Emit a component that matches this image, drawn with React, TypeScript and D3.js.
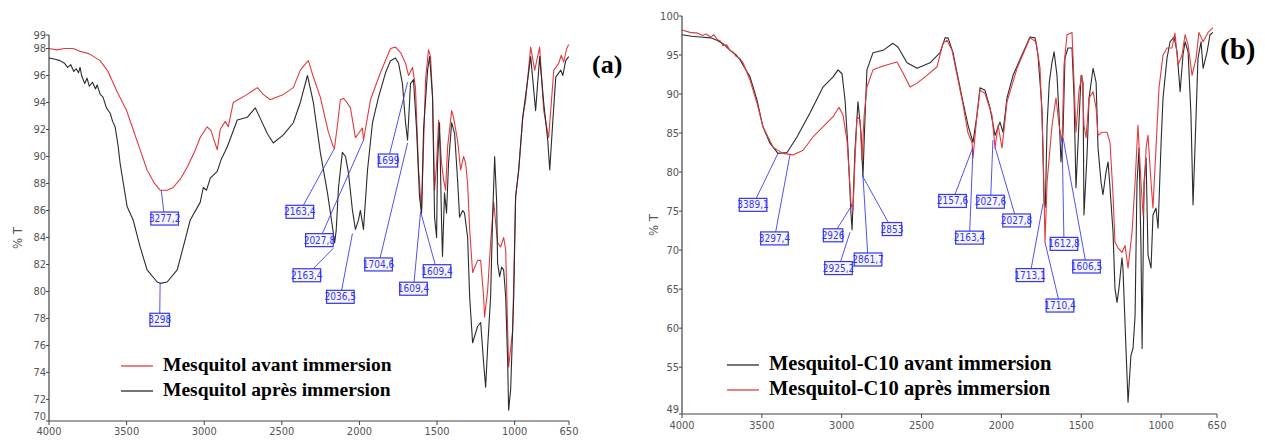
import React from "react";
import * as d3 from "d3";

type Pt = [number, number];
interface Annot { text: string; at: Pt; box: Pt }

const xTicks = [4000, 3500, 3000, 2500, 2000, 1500, 1000, 650];
const yTicksA = [70, 72, 74, 76, 78, 80, 82, 84, 86, 88, 90, 92, 94, 96, 98, 99];
const yTicksB = [49, 55, 60, 65, 70, 75, 80, 85, 90, 95, 100];

// Panel (a): Mesquitol avant immersion (red)
const redA: Pt[] = [
  [4000, 98.0], [3950, 97.9], [3900, 98.0], [3845, 98.0], [3800, 97.8], [3740, 97.6], [3671, 97.1], [3620, 96.3],
  [3561, 94.8], [3500, 93.4], [3458, 92.0], [3410, 90.4], [3368, 89.0], [3320, 88.0], [3284, 87.5], [3240, 87.5],
  [3200, 87.7], [3150, 88.4], [3110, 89.2], [3060, 90.4], [3026, 91.4], [2981, 92.2], [2955, 91.9], [2942, 91.4],
  [2916, 90.5], [2897, 92.0], [2865, 92.6], [2845, 92.2], [2813, 94.0], [2723, 94.6], [2658, 95.1], [2620, 94.6],
  [2574, 94.2], [2490, 94.6], [2426, 95.1], [2381, 96.4], [2345, 96.9], [2329, 97.1], [2300, 96.0], [2252, 94.4],
  [2200, 91.8], [2168, 90.7], [2161, 90.6], [2140, 92.5], [2123, 94.2], [2103, 94.3], [2080, 94.0], [2058, 93.6],
  [2026, 91.4], [2006, 91.7], [1981, 92.1], [1974, 91.2], [1929, 94.2], [1865, 96.2], [1800, 98.0], [1768, 98.1],
  [1735, 97.7], [1703, 96.9], [1684, 96.0], [1658, 96.6], [1639, 95.1], [1619, 89.0], [1600, 85.9], [1574, 95.7],
  [1555, 97.9], [1542, 97.4], [1529, 94.4], [1516, 87.5], [1503, 89.5], [1490, 92.7], [1471, 89.5], [1458, 88.3],
  [1445, 87.5], [1432, 90.7], [1406, 93.4], [1394, 92.9], [1368, 91.2], [1348, 89.0], [1329, 90.0], [1316, 89.5],
  [1303, 88.0], [1290, 84.6], [1271, 81.4], [1239, 82.3], [1219, 82.3], [1200, 79.6], [1194, 78.1], [1174, 80.1],
  [1155, 83.6], [1135, 86.6], [1110, 83.6], [1090, 83.3], [1071, 84.0], [1058, 83.1], [1045, 77.1], [1039, 74.4],
  [1013, 77.1], [994, 87.0], [974, 89.0], [948, 92.9], [929, 94.2], [897, 98.1], [871, 96.4], [839, 98.1],
  [813, 93.4], [781, 91.4], [748, 96.4], [716, 96.9], [700, 97.5], [684, 97.0], [665, 98.0], [652, 98.3],
];

// Panel (a): Mesquitol après immersion (black)
const blackA: Pt[] = [
  [4000, 97.3], [3960, 97.2], [3930, 97.1], [3900, 96.9], [3880, 96.6], [3860, 96.8], [3840, 96.3], [3825, 96.5],
  [3810, 96.2], [3800, 96.6], [3790, 96.0], [3770, 95.4], [3755, 95.8], [3740, 95.2], [3720, 95.5], [3700, 95.0],
  [3690, 95.3], [3670, 94.6], [3652, 94.4], [3630, 93.6], [3606, 93.2], [3590, 92.6], [3574, 92.2], [3555, 90.8],
  [3542, 89.5], [3497, 86.3], [3458, 85.3], [3413, 83.3], [3368, 81.6], [3303, 80.7], [3284, 80.6], [3239, 80.7],
  [3174, 81.6], [3135, 83.3], [3090, 85.3], [3026, 86.6], [3006, 87.7], [2985, 87.5], [2961, 88.4], [2916, 88.9],
  [2890, 89.8], [2852, 90.7], [2787, 92.7], [2723, 92.9], [2671, 93.6], [2630, 92.6], [2594, 91.7], [2555, 91.0],
  [2490, 91.6], [2426, 92.5], [2381, 94.0], [2335, 96.0], [2297, 94.0], [2252, 90.3], [2206, 87.3], [2174, 84.8],
  [2160, 83.6], [2150, 84.5], [2135, 87.7], [2110, 90.3], [2090, 90.0], [2071, 88.8], [2045, 86.0], [2026, 84.6],
  [2006, 85.3], [1994, 86.0], [1981, 85.1], [1974, 84.6], [1948, 89.0], [1916, 92.5], [1877, 94.4], [1832, 96.2],
  [1800, 97.1], [1768, 97.3], [1748, 96.9], [1723, 95.4], [1703, 92.5], [1690, 91.2], [1671, 95.4], [1652, 95.7],
  [1632, 92.0], [1613, 87.0], [1600, 85.8], [1587, 92.0], [1561, 96.4], [1548, 97.4], [1529, 94.4], [1516, 85.5],
  [1503, 84.0], [1497, 89.5], [1484, 92.5], [1471, 85.1], [1465, 82.6], [1452, 87.3], [1439, 85.8], [1426, 89.5],
  [1406, 92.5], [1387, 91.7], [1368, 88.3], [1355, 85.5], [1335, 86.0], [1323, 85.8], [1303, 84.0], [1290, 79.6],
  [1271, 76.2], [1239, 77.4], [1219, 77.7], [1200, 74.7], [1187, 72.9], [1174, 75.9], [1155, 79.6], [1142, 85.5],
  [1129, 90.0], [1116, 86.6], [1110, 82.1], [1097, 81.1], [1084, 81.8], [1071, 81.6], [1058, 79.6], [1045, 74.7],
  [1039, 71.2], [1026, 72.7], [1006, 79.6], [994, 87.0], [974, 89.0], [948, 92.9], [916, 95.7], [897, 97.4],
  [865, 93.4], [839, 97.4], [813, 94.0], [787, 91.2], [774, 89.0], [755, 92.5], [735, 95.9], [703, 96.4],
  [690, 96.0], [671, 97.1], [652, 97.4],
];

// Panel (b): Mesquitol-C10 avant immersion (black)
const blackB: Pt[] = [
  [4000, 97.6], [3940, 97.4], [3887, 97.3], [3820, 97.2], [3781, 96.9], [3740, 96.4], [3699, 95.6], [3660, 95.0],
  [3637, 94.4], [3574, 92.2], [3530, 89.2], [3493, 85.8], [3449, 83.7], [3399, 82.4], [3342, 82.5], [3280, 84.5],
  [3198, 87.6], [3117, 90.9], [3054, 92.2], [3023, 93.1], [2998, 92.6], [2979, 89.2], [2960, 82.8], [2942, 74.7],
  [2935, 72.6], [2917, 82.8], [2898, 89.0], [2879, 85.0], [2867, 79.4], [2854, 87.1], [2842, 93.1], [2804, 95.3],
  [2741, 95.6], [2679, 96.5], [2647, 96.0], [2591, 94.0], [2528, 93.3], [2447, 94.0], [2384, 95.3], [2353, 97.2],
  [2334, 97.2], [2303, 95.3], [2247, 89.6], [2209, 86.0], [2178, 83.8], [2153, 87.3], [2134, 90.8], [2103, 90.5],
  [2071, 88.2], [2040, 84.7], [2009, 86.4], [1990, 85.1], [1965, 89.5], [1927, 92.4], [1871, 95.0], [1821, 97.3],
  [1789, 97.2], [1771, 95.0], [1746, 88.2], [1733, 76.2], [1725, 75.5], [1714, 86.0], [1700, 91.5], [1683, 94.1],
  [1670, 95.4], [1652, 92.4], [1639, 87.3], [1627, 81.3], [1614, 85.1], [1602, 94.6], [1583, 95.9], [1558, 95.9],
  [1545, 89.5], [1533, 78.0], [1520, 83.8], [1501, 92.4], [1489, 91.5], [1483, 74.5], [1464, 82.1], [1451, 89.5],
  [1426, 93.3], [1407, 91.5], [1395, 83.1], [1376, 78.7], [1364, 77.1], [1345, 80.0], [1332, 81.3], [1320, 78.0],
  [1301, 72.3], [1289, 65.1], [1276, 63.3], [1264, 65.1], [1245, 69.0], [1239, 67.7], [1220, 57.4], [1207, 50.5],
  [1189, 56.5], [1176, 57.4], [1163, 61.6], [1151, 78.7], [1138, 83.1], [1126, 70.3], [1119, 57.4], [1107, 78.7],
  [1094, 81.8], [1082, 69.4], [1063, 67.7], [1051, 74.5], [1032, 75.4], [1019, 72.8], [1000, 83.8], [988, 89.5],
  [963, 94.6], [944, 96.7], [919, 97.3], [900, 95.4], [881, 90.3], [863, 95.0], [850, 96.7], [831, 95.4],
  [813, 87.3], [800, 75.8], [781, 87.3], [769, 94.6], [750, 96.7], [737, 93.3], [712, 95.4], [694, 97.6], [675, 97.9],
];

// Panel (b): Mesquitol-C10 après immersion (red)
const redB: Pt[] = [
  [4000, 98.2], [3950, 97.9], [3900, 97.8], [3870, 97.5], [3850, 97.7], [3820, 97.3], [3800, 97.6], [3780, 97.0],
  [3760, 96.8], [3743, 96.2], [3720, 96.3], [3700, 95.6], [3681, 95.4], [3660, 94.8], [3640, 94.6], [3618, 94.0],
  [3574, 91.8], [3530, 88.8], [3493, 85.8], [3430, 83.2], [3368, 82.4], [3305, 82.2], [3242, 82.8], [3180, 84.5],
  [3117, 85.8], [3054, 87.1], [3017, 88.3], [2992, 87.3], [2967, 84.1], [2948, 78.1], [2942, 76.0], [2929, 75.1],
  [2917, 81.5], [2904, 87.1], [2885, 86.7], [2873, 81.5], [2860, 87.1], [2842, 90.9], [2804, 93.1], [2741, 93.6],
  [2654, 94.1], [2616, 92.7], [2572, 90.9], [2528, 91.4], [2466, 92.4], [2403, 93.5], [2366, 96.5], [2341, 96.9],
  [2309, 95.6], [2240, 88.6], [2209, 85.0], [2184, 83.8], [2178, 81.8], [2153, 87.3], [2134, 90.5], [2103, 90.1],
  [2059, 87.3], [2040, 83.1], [2021, 86.0], [1996, 83.1], [1965, 89.0], [1902, 93.3], [1821, 97.2], [1783, 96.7],
  [1758, 93.3], [1739, 83.1], [1727, 71.0], [1714, 78.7], [1683, 86.0], [1658, 89.5], [1639, 86.0], [1620, 83.8],
  [1608, 93.7], [1589, 97.6], [1558, 97.9], [1545, 91.5], [1533, 85.1], [1514, 90.5], [1495, 92.4], [1483, 86.0],
  [1470, 84.4], [1451, 89.5], [1426, 90.3], [1407, 88.2], [1395, 84.7], [1370, 85.1], [1339, 85.1], [1320, 83.8],
  [1301, 77.1], [1289, 71.0], [1270, 70.3], [1245, 69.7], [1226, 70.6], [1207, 67.7], [1182, 72.3], [1163, 78.7],
  [1145, 86.0], [1126, 78.7], [1113, 74.5], [1094, 83.1], [1082, 84.7], [1063, 78.7], [1051, 75.4], [1032, 83.1],
  [1013, 90.8], [988, 95.0], [963, 95.9], [932, 95.9], [913, 97.8], [894, 93.7], [869, 95.0], [850, 97.6],
  [831, 96.3], [806, 92.4], [781, 94.6], [763, 97.9], [737, 96.7], [706, 97.9], [675, 98.5],
];

const annotA: Annot[] = [
  { text: "3277,2", at: [3277, 87.5], box: [3255, 85.4] },
  { text: "3298", at: [3284, 80.6], box: [3287, 77.9] },
  { text: "2163,4", at: [2161, 90.6], box: [2384, 85.9] },
  { text: "2027,8", at: [1974, 91.2], box: [2258, 83.8] },
  { text: "2163,4", at: [2168, 83.2], box: [2339, 81.2] },
  { text: "2036,5", at: [2045, 84.3], box: [2123, 79.6] },
  { text: "1699", at: [1690, 95.5], box: [1816, 89.7] },
  { text: "1704,6", at: [1690, 91.0], box: [1877, 82.0] },
  { text: "1609,4", at: [1606, 85.9], box: [1652, 80.2] },
  { text: "1609,4", at: [1606, 85.9], box: [1500, 81.5] },
];

const annotB: Annot[] = [
  { text: "3389,1", at: [3399, 82.4], box: [3555, 75.8] },
  { text: "3297,4", at: [3324, 82.2], box: [3421, 71.5] },
  { text: "2926", at: [2935, 75.8], box: [3054, 71.9] },
  { text: "2925,2", at: [2948, 72.3], box: [3020, 67.7] },
  { text: "2861,7", at: [2867, 79.6], box: [2835, 68.8] },
  { text: "2853", at: [2867, 79.4], box: [2685, 72.7] },
  { text: "2157,6", at: [2178, 83.2], box: [2306, 76.3] },
  { text: "2163,4", at: [2178, 82.8], box: [2200, 71.6] },
  { text: "2027,6", at: [2053, 84.1], box: [2068, 76.2] },
  { text: "2027,8", at: [2040, 83.2], box: [1905, 73.8] },
  { text: "1713,1", at: [1739, 76.0], box: [1821, 66.8] },
  { text: "1710,4", at: [1727, 71.0], box: [1633, 62.9] },
  { text: "1612,8", at: [1620, 84.4], box: [1608, 70.8] },
  { text: "1606,5", at: [1614, 84.4], box: [1467, 67.9] },
];

const RED = "#e23a3f";
const BLACK = "#2b2b2b";
const BLUE = "#3535f0";
const NARROW = "'Liberation Sans Narrow', 'DejaVu Sans Condensed', 'Arial Narrow', sans-serif";
const SERIF = "'Liberation Serif', 'Times New Roman', serif";

interface Frame { left: number; right: number; top: number; bottom: number }
interface Series { data: Pt[]; color: string }
interface LegendItem { label: string; color: string }

function Panel(props: {
  frame: Frame; yDomain: [number, number]; yTicks: number[]; series: Series[]; annots: Annot[];
  legend: LegendItem[]; legendX: number; legendY: number; legendFont: number; tag: string; tagX: number; tagY: number;
  tagFont: number; yLabelX: number; yLabelY: number; xLabelDy: number;
}) {
  const { frame, yDomain, yTicks, series, annots, legend } = props;
  const x = d3.scaleLinear().domain([4000, 650]).range([frame.left, frame.right]);
  const y = d3.scaleLinear().domain(yDomain).range([frame.bottom, frame.top]).clamp(true);
  const line = d3.line<Pt>().x((d) => x(d[0])).y((d) => y(d[1]));
  return (
    <g>
      {series.map((s, i) => (
        <path key={i} d={line(s.data) || ""} fill="none" stroke={s.color} strokeWidth={1.1} strokeLinejoin="round" />
      ))}
      {annots.map((a, i) => (
        <line key={"l" + i} x1={x(a.at[0])} y1={y(a.at[1])} x2={x(a.box[0])} y2={y(a.box[1])} stroke={BLUE} strokeWidth={1} opacity={0.85} />
      ))}
      {annots.map((a, i) => {
        const w = a.text.length * 4.1 + 3;
        const h = 13;
        const cx = x(a.box[0]);
        const cy = y(a.box[1]);
        return (
          <g key={"b" + i}>
            <rect x={cx - w / 2} y={cy - h / 2} width={w} height={h} fill="#f6f6ff" stroke={BLUE} strokeWidth={1.2} />
            <text x={cx} y={cy + 3.5} textAnchor="middle" fontFamily={NARROW} fontSize={10} fill={BLUE}>{a.text}</text>
          </g>
        );
      })}
      <line x1={frame.left} x2={frame.left} y1={frame.top} y2={frame.bottom} stroke="#444" strokeWidth={1.2} />
      <line x1={frame.left} x2={frame.right} y1={frame.bottom} y2={frame.bottom} stroke="#444" strokeWidth={1.2} />
      {yTicks.map((t) => {
        const ty = y(t);
        const atBottom = ty >= frame.bottom - 0.5;
        return (
          <g key={"y" + t}>
            <line x1={frame.left - 3} x2={frame.left} y1={ty} y2={ty} stroke="#444" />
            <text x={frame.left - 3} y={atBottom ? ty - 1 : ty + 4} textAnchor="end" fontFamily={NARROW} fontSize={11} fill="#555">{t}</text>
          </g>
        );
      })}
      {xTicks.map((t) => (
        <g key={"x" + t}>
          <line x1={x(t)} x2={x(t)} y1={frame.bottom} y2={frame.bottom + 4} stroke="#444" />
          <text x={x(t)} y={frame.bottom + props.xLabelDy} textAnchor="middle" fontFamily={NARROW} fontSize={11} fill="#555">{t}</text>
        </g>
      ))}
      <text transform={`translate(${props.yLabelX},${props.yLabelY}) rotate(-90)`} textAnchor="middle" fontFamily={NARROW} fontSize={13} fill="#555">% T</text>
      {legend.map((l, i) => (
        <g key={"lg" + i}>
          <line x1={props.legendX} x2={props.legendX + 32} y1={props.legendY + i * 25} y2={props.legendY + i * 25} stroke={l.color} strokeWidth={1.3} />
          <text x={props.legendX + 42} y={props.legendY + i * 25 + 5} fontFamily={SERIF} fontWeight="bold" fontSize={props.legendFont} fill="#000">{l.label}</text>
        </g>
      ))}
      <text x={props.tagX} y={props.tagY} fontFamily={SERIF} fontWeight="bold" fontSize={props.tagFont} fill="#000">{props.tag}</text>
    </g>
  );
}

export default function App() {
  return (
    <svg width={1265} height={440} style={{ position: "absolute", left: 0, top: 0, background: "#fff" }}>
      <rect width={1265} height={440} fill="#fff" />
      <Panel
        frame={{ left: 49, right: 569, top: 35, bottom: 421 }}
        yDomain={[70.4, 99]}
        yTicks={yTicksA}
        series={[{ data: redA, color: RED }, { data: blackA, color: BLACK }]}
        annots={annotA}
        legend={[{ label: "Mesquitol avant immersion", color: RED }, { label: "Mesquitol après immersion", color: BLACK }]}
        legendX={121} legendY={366} legendFont={19.5}
        tag="(a)" tagX={592} tagY={73} tagFont={26}
        yLabelX={22} yLabelY={238} xLabelDy={14}
      />
      <Panel
        frame={{ left: 682, right: 1217, top: 16, bottom: 414 }}
        yDomain={[49, 100]}
        yTicks={yTicksB}
        series={[{ data: blackB, color: BLACK }, { data: redB, color: RED }]}
        annots={annotB}
        legend={[{ label: "Mesquitol-C10 avant immersion", color: BLACK }, { label: "Mesquitol-C10 après immersion", color: RED }]}
        legendX={727} legendY={365} legendFont={20.5}
        tag="(b)" tagX={1220} tagY={59} tagFont={29}
        yLabelX={658} yLabelY={225} xLabelDy={15}
      />
    </svg>
  );
}
